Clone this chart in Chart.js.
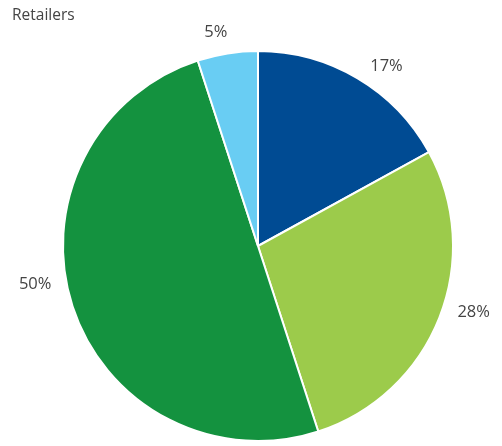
<!DOCTYPE html>
<html>
<head>
<meta charset="utf-8">
<script src="https://cdn.jsdelivr.net/npm/chart.js@4"></script>
<style>
  html, body { margin: 0; padding: 0; background: #fff; }
  #wrap { width: 502px; height: 446px; }
</style>
</head>
<body>
<div id="wrap"><canvas id="myChart" width="502" height="446"></canvas></div>
<script>
const title = "Retailers";
const segments = ["Segment A", "Segment B", "Segment C", "Segment D"];
const shares = [17, 28, 50, 5];
const sliceColors = ["#004b93", "#9ccb4b", "#14923f", "#69cdf3"];

const fontFamily = "'Open Sans', 'Noto Sans', sans-serif";

// small angular nudges (degrees) so labels sit clear of neighbours
const labelNudge = [4, -4, 8, -2];

// writes the percentage outside each slice and the title in the corner
const outsideLabels = {
  id: "outsideLabels",
  afterDraw(chart) {
    const ctx = chart.ctx;
    const meta = chart.getDatasetMeta(0);
    ctx.save();
    ctx.fillStyle = "#444";
    ctx.font = "16.5px " + fontFamily;
    ctx.textAlign = "center";
    ctx.textBaseline = "middle";
    meta.data.forEach((arc, i) => {
      const text = shares[i] + "%";
      const w = ctx.measureText(text).width;
      const h = 16;
      const mid = (arc.startAngle + arc.endAngle) / 2 + (labelNudge[i] * Math.PI) / 180;
      const r = arc.outerRadius + 15;
      const dx = Math.cos(mid);
      const dy = Math.sin(mid);
      const x = arc.x + dx * r + (dx * w) / 2;
      const y = arc.y + dy * r + (dy * h) / 2;
      ctx.fillText(text, x, y);
    });
    ctx.font = "15.5px " + fontFamily;
    ctx.textAlign = "left";
    ctx.textBaseline = "alphabetic";
    ctx.fillText(title, 12, 20);
    ctx.restore();
  },
};

const ctx = document.getElementById("myChart").getContext("2d");

const myChart = new Chart(ctx, {
  type: "pie",
  data: {
    labels: segments,
    datasets: [
      {
        data: shares,
        backgroundColor: sliceColors,
        borderColor: "#ffffff",
        borderWidth: 2,
      },
    ],
  },
  options: {
    responsive: false,
    animation: false,
    layout: {
      padding: { left: 62, right: 48, top: 50, bottom: 4 },
    },
    plugins: {
      legend: { display: false },
      tooltip: { enabled: false },
    },
  },
  plugins: [outsideLabels],
});
</script>
</body>
</html>
